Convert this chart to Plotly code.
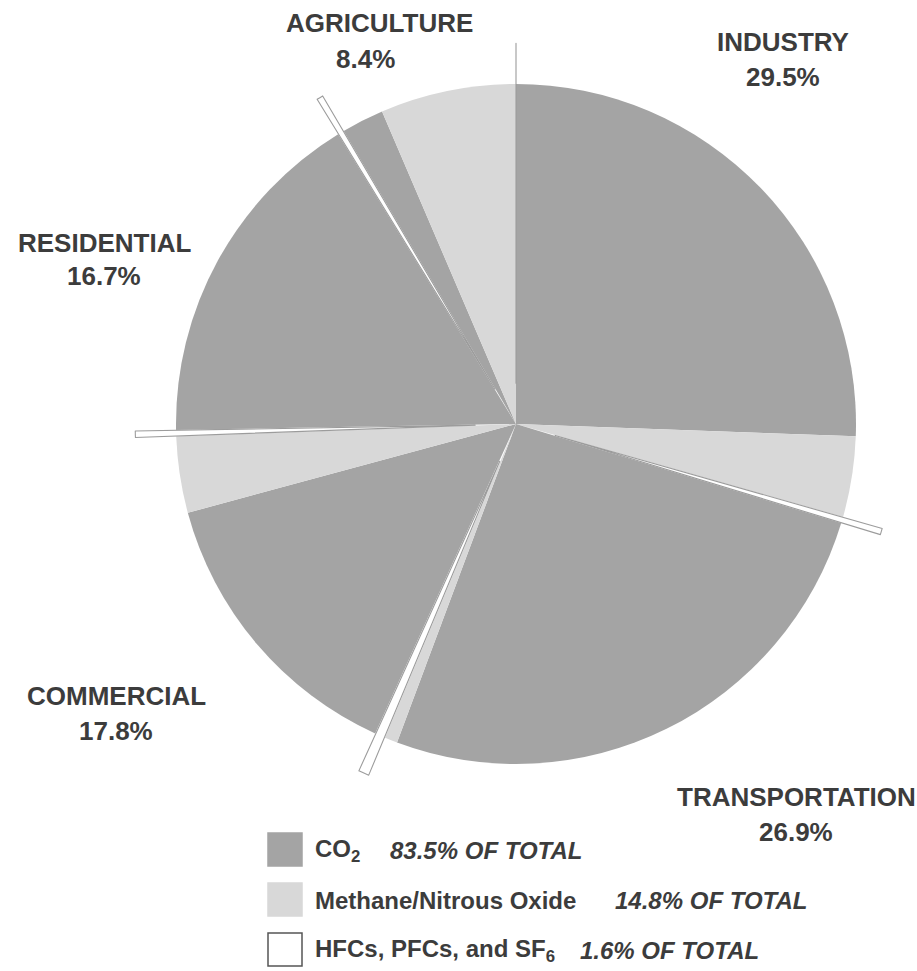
import plotly.graph_objects as go

# Greenhouse gas emissions by end-use sector, percent of total
sectors = ["INDUSTRY", "TRANSPORTATION", "COMMERCIAL", "RESIDENTIAL", "AGRICULTURE"]
sector_totals = [29.5, 26.9, 17.8, 16.7, 8.4]

# Share of each gas group within every sector (percent of total emissions)
co2 = [25.4, 25.8, 13.9, 16.4, 2.0]
methane_n2o = [3.8, 0.6, 3.6, 0.0, 6.4]
hfc_pfc_sf6 = [0.3, 0.5, 0.3, 0.3, 0.0]

gas_names = ["CO<sub>2</sub>", "Methane/Nitrous Oxide", "HFCs, PFCs, and SF<sub>6</sub>"]
gas_totals = [83.5, 14.8, 1.6]

CO2_COLOR = "#a4a4a4"
CH4_COLOR = "#d8d8d8"
HFC_COLOR = "#ffffff"
TEXT_COLOR = "#3c3c3c"
FONT = "Liberation Sans, Arial, sans-serif"

W, H = 917, 971

labels, values, colors, pulls, line_w, line_c = [], [], [], [], [], []
for s, a, b, c in zip(sectors, co2, methane_n2o, hfc_pfc_sf6):
    for gas, v, col in (("CO2", a, CO2_COLOR), ("CH4/N2O", b, CH4_COLOR), ("HFC", c, HFC_COLOR)):
        labels.append(f"{s} {gas}")
        values.append(v)
        colors.append(col)
        is_hfc = gas == "HFC"
        pulls.append(0.12 if is_hfc else 0)
        line_w.append(1.1 if is_hfc else 0)
        line_c.append("#9c9c9c" if is_hfc else col)

# pie box: centre (516, 424) px, radius 340 px, room for the pulled slivers
cx, cy, r = 516, 424, 340
half = r * 1.12
dom_x = [(cx - half) / W, (cx + half) / W]
dom_y = [1 - (cy + half) / H, 1 - (cy - half) / H]

fig = go.Figure(go.Pie(
    labels=labels,
    values=values,
    sort=False,
    direction="clockwise",
    rotation=0,
    pull=pulls,
    marker=dict(colors=colors, line=dict(width=line_w, color=line_c)),
    textinfo="none",
    hoverinfo="label+value",
    showlegend=False,
    domain=dict(x=dom_x, y=dom_y),
))


def px(x, y):
    return x / W, 1 - y / H


annotations = []
# sector labels: (name centre, percent centre) in pixels
label_pos = {
    "INDUSTRY": ((783, 42), (783, 77)),
    "TRANSPORTATION": ((796, 797), (796, 832)),
    "COMMERCIAL": ((116, 696), (116, 731)),
    "RESIDENTIAL": ((104, 243), (104, 276)),
    "AGRICULTURE": ((379, 23), (365, 59)),
}
for s, tot in zip(sectors, sector_totals):
    (nx, ny), (vx, vy) = label_pos[s]
    for txt, (x, y) in ((s, (nx, ny)), (f"{tot}%", (vx, vy))):
        ax, ay = px(x, y)
        annotations.append(dict(
            x=ax, y=ay, xref="paper", yref="paper", text=txt, showarrow=False,
            xanchor="center", yanchor="middle",
            font=dict(family=FONT, size=26, color=TEXT_COLOR, weight="bold"),
        ))

# legend drawn as swatches and text
shapes = []
swatch_fill = [CO2_COLOR, CH4_COLOR, HFC_COLOR]
swatch_line = [CO2_COLOR, CH4_COLOR, "#555555"]
row_y = [850, 900, 950]
pct_x = [388, 613, 578]
for i, (name, tot) in enumerate(zip(gas_names, gas_totals)):
    yc = row_y[i]
    x0, y0 = px(268, yc - 17)
    x1, y1 = px(302, yc + 16)
    shapes.append(dict(type="rect", xref="paper", yref="paper", x0=x0, x1=x1, y0=y1, y1=y0,
                       fillcolor=swatch_fill[i], line=dict(color=swatch_line[i], width=1.5)))
    tx, ty = px(313, yc)
    annotations.append(dict(
        x=tx, y=ty, xref="paper", yref="paper", text=name, showarrow=False,
        xanchor="left", yanchor="middle",
        font=dict(family=FONT, size=24, color=TEXT_COLOR, weight="bold"),
    ))
    qx, qy = px(pct_x[i], yc)
    annotations.append(dict(
        x=qx, y=qy, xref="paper", yref="paper", text=f"<i>{tot}% OF TOTAL</i>", showarrow=False,
        xanchor="left", yanchor="middle",
        font=dict(family=FONT, size=24, color=TEXT_COLOR, weight="bold"),
    ))

fig.update_layout(
    width=W, height=H,
    margin=dict(l=0, r=0, t=0, b=0),
    paper_bgcolor="white",
    plot_bgcolor="white",
    annotations=annotations,
    shapes=shapes,
)

fig.write_html("out.html")
